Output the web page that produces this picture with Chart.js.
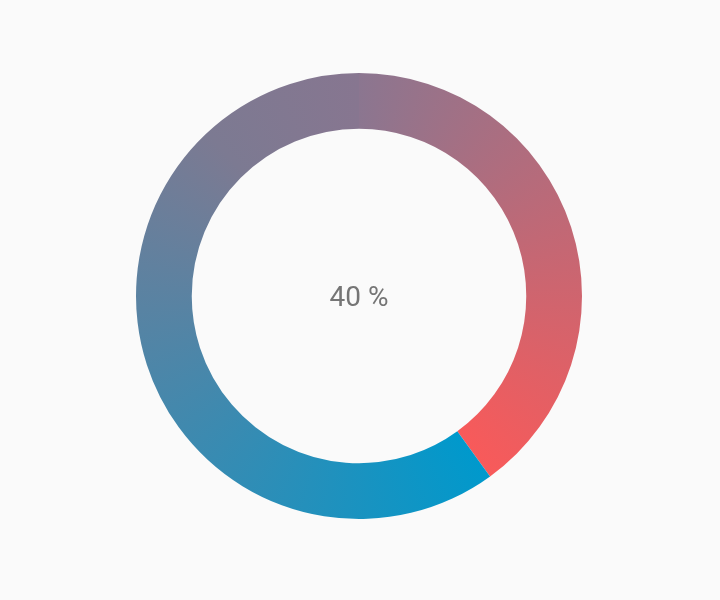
<!DOCTYPE html>
<html>
<head>
<meta charset="utf-8">
<script src="https://cdn.jsdelivr.net/npm/chart.js@4/dist/chart.umd.min.js"></script>
<style>
  html, body { margin: 0; padding: 0; background: #fafafa; }
  #wrap { width: 720px; height: 600px; }
</style>
</head>
<body>
<div id="wrap"><canvas id="my-chart"></canvas></div>
<script>
const labels = ["Done", "Remaining"];
const values = [40, 60];

// colour stops along each segment (start of arc -> end of arc)
const doneColors = ["#8b7690", "#f85a5a"];
const restColors = ["#0099cc", "#7c7a92", "#877690"];

const total = values.reduce((a, b) => a + b, 0);

function segmentGradient(context) {
  const chart = context.chart;
  const area = chart.chartArea;
  if (!area) return doneColors[1];
  const ctx = chart.ctx;
  const cx = (area.left + area.right) / 2;
  const cy = (area.top + area.bottom) / 2;
  const g = ctx.createConicGradient(-Math.PI / 2, cx, cy);
  const split = values[0] / total;
  if (context.dataIndex === 0) {
    g.addColorStop(0, doneColors[0]);
    g.addColorStop(split, doneColors[1]);
    g.addColorStop(1, doneColors[1]);
  } else {
    g.addColorStop(0, restColors[0]);
    g.addColorStop(split, restColors[0]);
    g.addColorStop(split + (1 - split) * 0.8, restColors[1]);
    g.addColorStop(1, restColors[2]);
  }
  return g;
}

const centerText = {
  id: "centerText",
  afterDraw(chart) {
    const { ctx, chartArea } = chart;
    const cx = (chartArea.left + chartArea.right) / 2;
    const cy = (chartArea.top + chartArea.bottom) / 2;
    ctx.save();
    ctx.font = "28px Roboto";
    ctx.fillStyle = "#757575";
    ctx.textAlign = "center";
    ctx.textBaseline = "middle";
    ctx.fillText(Math.round(values[0] / total * 100) + " %", cx, cy + 3);
    ctx.restore();
  },
};

new Chart(document.getElementById("my-chart"), {
  type: "doughnut",
  data: {
    labels: labels,
    datasets: [
      {
        data: values,
        backgroundColor: segmentGradient,
        borderWidth: 0,
      },
    ],
  },
  options: {
    responsive: true,
    maintainAspectRatio: false,
    animation: false,
    cutout: "75%",
    layout: { padding: { top: 73, bottom: 81, left: 0, right: 2 } },
    plugins: {
      legend: { display: false },
      tooltip: { enabled: false },
    },
  },
  plugins: [centerText],
});
</script>
</body>
</html>
